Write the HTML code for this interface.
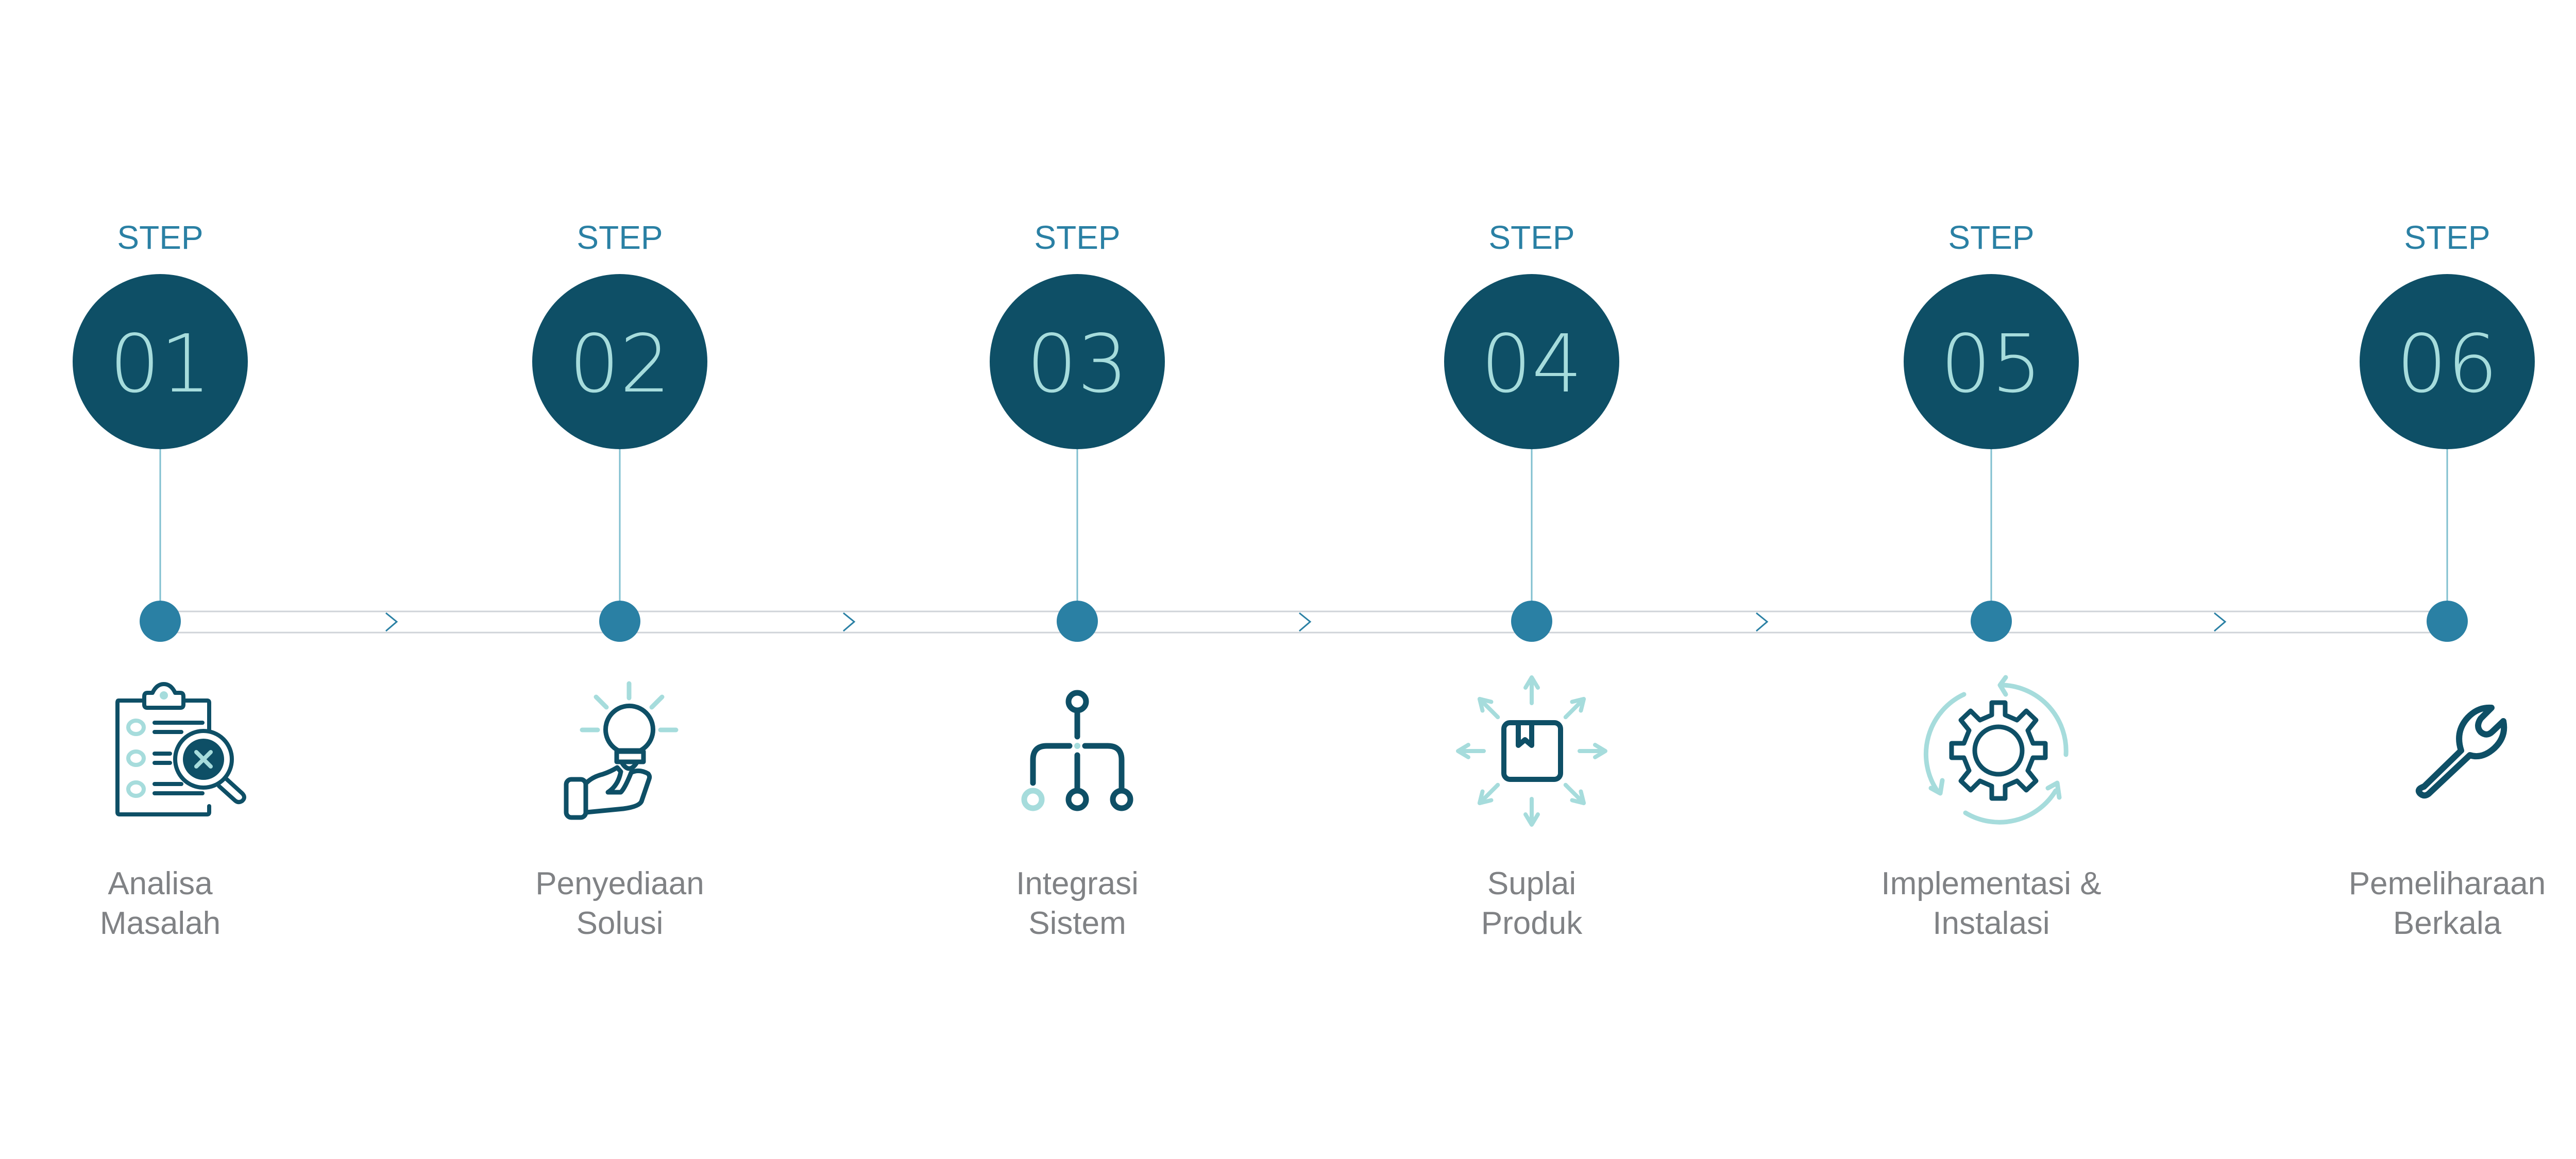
<!DOCTYPE html>
<html><head><meta charset="utf-8"><style>
html,body{margin:0;padding:0;background:#fff;}
svg{display:block;}
.num{font-family:"DejaVu Sans ExtraLight","DejaVu Sans",sans-serif;font-weight:200;font-size:155px;fill:#a6dcdc;}
</style></head><body>
<svg width="5084" height="2250" viewBox="0 0 5084 2250" xmlns="http://www.w3.org/2000/svg">
<rect width="5084" height="2250" fill="#fff"/>
<g font-family="Liberation Sans, sans-serif">
<g stroke="#cfd3d8" stroke-width="3" fill="none">
<line x1="311" y1="1187" x2="4750" y2="1187"/>
<line x1="311" y1="1228" x2="4750" y2="1228"/>
</g>
<g stroke="#2a80a4" stroke-width="3" fill="none">
<polyline points="749,1190 770,1207 749,1225"/>
<polyline points="1637,1190 1658,1207 1637,1225"/>
<polyline points="2522,1190 2543,1207 2522,1225"/>
<polyline points="3409,1190 3430,1207 3409,1225"/>
<polyline points="4298,1190 4319,1207 4298,1225"/>
</g>
<g>
<text x="311" y="483" font-size="64" fill="#2a80a4" text-anchor="middle">STEP</text>
<line x1="311" y1="870" x2="311" y2="1170" stroke="#7fbfcf" stroke-width="3"/>
<circle cx="311" cy="702" r="170" fill="#0e4f66"/>
<text x="311" y="760" class="num" text-anchor="middle">01</text>
<circle cx="311" cy="1206" r="40" fill="#2a80a4"/>
</g>
<g>
<text x="1203" y="483" font-size="64" fill="#2a80a4" text-anchor="middle">STEP</text>
<line x1="1203" y1="870" x2="1203" y2="1170" stroke="#7fbfcf" stroke-width="3"/>
<circle cx="1203" cy="702" r="170" fill="#0e4f66"/>
<text x="1203" y="760" class="num" text-anchor="middle">02</text>
<circle cx="1203" cy="1206" r="40" fill="#2a80a4"/>
</g>
<g>
<text x="2091" y="483" font-size="64" fill="#2a80a4" text-anchor="middle">STEP</text>
<line x1="2091" y1="870" x2="2091" y2="1170" stroke="#7fbfcf" stroke-width="3"/>
<circle cx="2091" cy="702" r="170" fill="#0e4f66"/>
<text x="2091" y="760" class="num" text-anchor="middle">03</text>
<circle cx="2091" cy="1206" r="40" fill="#2a80a4"/>
</g>
<g>
<text x="2973" y="483" font-size="64" fill="#2a80a4" text-anchor="middle">STEP</text>
<line x1="2973" y1="870" x2="2973" y2="1170" stroke="#7fbfcf" stroke-width="3"/>
<circle cx="2973" cy="702" r="170" fill="#0e4f66"/>
<text x="2973" y="760" class="num" text-anchor="middle">04</text>
<circle cx="2973" cy="1206" r="40" fill="#2a80a4"/>
</g>
<g>
<text x="3865" y="483" font-size="64" fill="#2a80a4" text-anchor="middle">STEP</text>
<line x1="3865" y1="870" x2="3865" y2="1170" stroke="#7fbfcf" stroke-width="3"/>
<circle cx="3865" cy="702" r="170" fill="#0e4f66"/>
<text x="3865" y="760" class="num" text-anchor="middle">05</text>
<circle cx="3865" cy="1206" r="40" fill="#2a80a4"/>
</g>
<g>
<text x="4750" y="483" font-size="64" fill="#2a80a4" text-anchor="middle">STEP</text>
<line x1="4750" y1="870" x2="4750" y2="1170" stroke="#7fbfcf" stroke-width="3"/>
<circle cx="4750" cy="702" r="170" fill="#0e4f66"/>
<text x="4750" y="760" class="num" text-anchor="middle">06</text>
<circle cx="4750" cy="1206" r="40" fill="#2a80a4"/>
</g>
<g font-size="62" fill="#808285" text-anchor="middle">
<text x="311" y="1736">Analisa</text><text x="311" y="1813">Masalah</text>
<text x="1203" y="1736">Penyediaan</text><text x="1203" y="1813">Solusi</text>
<text x="2091" y="1736">Integrasi</text><text x="2091" y="1813">Sistem</text>
<text x="2973" y="1736">Suplai</text><text x="2973" y="1813">Produk</text>
<text x="3865" y="1736">Implementasi &amp;</text><text x="3865" y="1813">Instalasi</text>
<text x="4750" y="1736">Pemeliharaan</text><text x="4750" y="1813">Berkala</text>
</g>
</g>
<g fill="none" stroke="#0e4f66" stroke-width="8" stroke-linecap="round" stroke-linejoin="round">
<path d="M275,1360 L230,1360 Q228,1360 228,1364 L228,1577 Q228,1581 232,1581 L402,1581 Q406,1581 406,1577 L406,1565"/>
<path d="M406,1420 L406,1364 Q406,1360 402,1360 L360,1360"/>
<path d="M280,1352 L280,1368 Q280,1374 286,1374 L350,1374 Q356,1374 356,1368 L356,1352 Q356,1345 350,1345 L340,1345 Q332,1328 318,1328 Q304,1328 296,1345 L286,1345 Q280,1345 280,1352Z"/>
<line x1="300" y1="1403" x2="393" y2="1403"/><line x1="300" y1="1421" x2="352" y2="1421"/>
<line x1="300" y1="1463" x2="330" y2="1463"/><line x1="300" y1="1481" x2="330" y2="1481"/>
<line x1="300" y1="1522" x2="352" y2="1522"/><line x1="300" y1="1540" x2="393" y2="1540"/>
<circle cx="395" cy="1474" r="55"/>
<path d="M437,1510 L470,1540 Q478,1548 470,1555 Q462,1560 455,1553 L425,1526"/>
</g>
<circle cx="395" cy="1474" r="40" fill="#0e4f66"/>
<g stroke="#a6dcdc" stroke-width="8" stroke-linecap="round" fill="none">
<line x1="381" y1="1460" x2="409" y2="1488"/><line x1="409" y1="1460" x2="381" y2="1488"/>
<ellipse cx="264" cy="1412" rx="15" ry="13"/><ellipse cx="264" cy="1472" rx="15" ry="13"/><ellipse cx="264" cy="1532" rx="15" ry="13"/>
<circle cx="318" cy="1350" r="4"/>
</g>
<g stroke="#a6dcdc" stroke-width="9" stroke-linecap="round">
<line x1="1221" y1="1327" x2="1221" y2="1355"/>
<line x1="1157" y1="1353" x2="1177" y2="1373"/><line x1="1285" y1="1353" x2="1265" y2="1373"/>
<line x1="1130" y1="1417" x2="1160" y2="1417"/><line x1="1282" y1="1417" x2="1312" y2="1417"/>
</g>
<g fill="none" stroke="#0e4f66" stroke-width="9" stroke-linecap="round" stroke-linejoin="round">
<path d="M1200,1457 A46,46 0 1 1 1243,1457 Z"/>
<rect x="1197" y="1459" width="52" height="20"/>
<path d="M1208,1482 Q1221,1502 1235,1482"/>
<rect x="1099" y="1513" width="38" height="74" rx="10"/>
<path d="M1138,1520 Q1150,1508 1170,1503 Q1185,1498 1198,1490 L1205,1498 Q1200,1525 1180,1538 L1205,1538 Q1213,1530 1225,1500 Q1240,1492 1258,1502 Q1262,1507 1260,1512 L1245,1556 Q1240,1566 1210,1570 L1138,1577"/>
</g>
<g fill="none" stroke="#0e4f66" stroke-width="11" stroke-linecap="round">
<circle cx="2091" cy="1362" r="17"/>
<line x1="2091" y1="1380" x2="2091" y2="1430"/>
<path d="M2076,1448 L2032,1448 Q2005,1448 2005,1475 L2005,1520"/>
<path d="M2106,1448 L2150,1448 Q2177,1448 2177,1475 L2177,1535"/>
<line x1="2091" y1="1466" x2="2091" y2="1535"/>
<circle cx="2091" cy="1552" r="17"/><circle cx="2177" cy="1552" r="17"/>
</g>
<circle cx="2005" cy="1552" r="17" fill="none" stroke="#a6dcdc" stroke-width="11"/>
<circle cx="2091" cy="1448" r="6" fill="#a6dcdc"/>
<g fill="none" stroke="#0e4f66" stroke-width="10" stroke-linejoin="round">
<rect x="2919" y="1403" width="110" height="110" rx="12"/>
<path d="M2947,1403 L2947,1447 L2960,1436 L2973,1447 L2973,1403"/>
</g>
<g fill="none" stroke="#a6dcdc" stroke-width="8" stroke-linecap="round" stroke-linejoin="round">
<g id="ar"><line x1="2973" y1="1365" x2="2973" y2="1320"/><polyline points="2961,1335 2973,1315 2985,1335"/></g>
<use href="#ar" transform="rotate(45 2973 1458)"/><use href="#ar" transform="rotate(90 2973 1458)"/>
<use href="#ar" transform="rotate(135 2973 1458)"/><use href="#ar" transform="rotate(180 2973 1458)"/>
<use href="#ar" transform="rotate(225 2973 1458)"/><use href="#ar" transform="rotate(270 2973 1458)"/>
<use href="#ar" transform="rotate(315 2973 1458)"/>
</g>
<g fill="none" stroke="#0e4f66" stroke-width="9" stroke-linejoin="round">
<circle cx="3879" cy="1457" r="46"/>
<path d="M3866,1364 L3892,1364 L3892,1388 L3915,1398 L3933,1380 L3952,1398 L3936,1418 L3946,1443 L3970,1443 L3970,1471 L3946,1471 L3936,1496 L3952,1516 L3933,1534 L3915,1516 L3892,1526 L3892,1550 L3866,1550 L3866,1526 L3843,1516 L3825,1534 L3806,1516 L3822,1496 L3812,1471 L3788,1471 L3788,1443 L3812,1443 L3822,1418 L3806,1398 L3825,1380 L3843,1398 L3866,1388 Z"/>
</g>
<g fill="none" stroke="#a6dcdc" stroke-width="9" stroke-linecap="round" stroke-linejoin="round">
<path d="M3889,1330 A128,128 0 0 1 4010,1465"/>
<polyline points="3893,1315 3882,1330 3893,1348"/>
<path d="M3812,1348 A128,128 0 0 0 3760,1535"/>
<polyline points="3748,1530 3766,1540 3770,1515"/>
<path d="M3815,1578 A128,128 0 0 0 3990,1535"/>
<polyline points="3975,1530 3993,1520 3997,1548"/>
</g>
<path d="M4705,1527 L4777,1457 Q4765,1420 4790,1393 Q4810,1372 4836,1374 L4815,1395 Q4805,1410 4815,1421 Q4827,1431 4838,1420 L4859,1400 Q4865,1430 4842,1452 Q4818,1474 4794,1466 L4714,1541 Q4705,1548 4697,1540 Q4690,1532 4705,1527 Z" fill="none" stroke="#0e4f66" stroke-width="12" stroke-linejoin="round"/>
</svg>
</body></html>
